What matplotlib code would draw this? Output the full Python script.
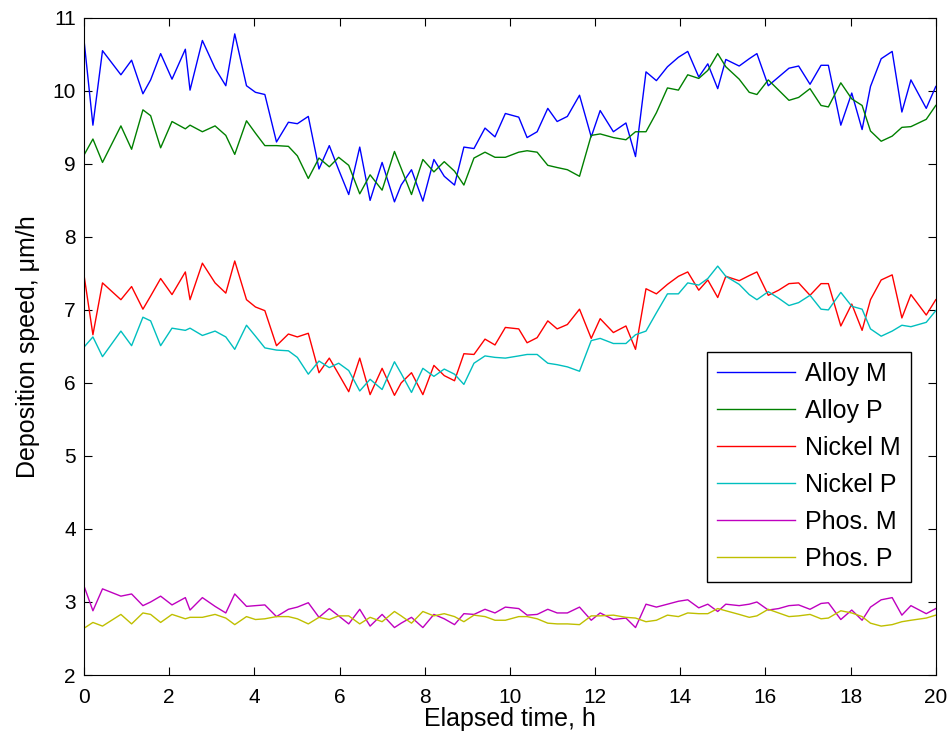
import matplotlib
matplotlib.use("Agg")
import matplotlib.pyplot as plt

plt.rcParams["font.family"] = ["Liberation Sans", "DejaVu Sans"]

# elapsed time, h (irregular sampling)
t = [0.0, 0.21, 0.435, 0.867, 1.118, 1.384, 1.565, 1.80, 2.067, 2.38,
     2.49, 2.78, 3.078, 3.33, 3.54, 3.816, 4.027, 4.247, 4.52, 4.80,
     5.01, 5.267, 5.518, 5.76, 5.98, 6.216, 6.475, 6.718, 7.0, 7.29,
     7.447, 7.69, 7.957, 8.216, 8.459, 8.70, 8.92, 9.157, 9.416, 9.65,
     9.894, 10.208, 10.404, 10.64, 10.89, 11.11, 11.35, 11.635, 11.91, 12.12,
     12.43, 12.725, 12.95, 13.196, 13.44, 13.70, 13.957, 14.176, 14.435, 14.647,
     14.88, 15.07, 15.384, 15.62, 15.80, 16.067, 16.31, 16.553, 16.78, 17.047,
     17.306, 17.478, 17.77, 18.027, 18.27, 18.467, 18.718, 18.976, 19.204, 19.416,
     19.776, 20.0]

alloy_m = [10.70, 9.53, 10.55, 10.22, 10.42, 9.96, 10.15, 10.51, 10.16, 10.57,
           10.01, 10.69, 10.31, 10.07, 10.78, 10.07, 9.98, 9.95, 9.30, 9.57,
           9.55, 9.65, 8.93, 9.25, 8.92, 8.58, 9.23, 8.50, 9.02, 8.48,
           8.71, 8.92, 8.49, 9.06, 8.83, 8.71, 9.23, 9.21, 9.49, 9.37,
           9.69, 9.64, 9.36, 9.44, 9.76, 9.58, 9.65, 9.94, 9.37, 9.73,
           9.44, 9.56, 9.10, 10.26, 10.14, 10.33, 10.46, 10.54, 10.19, 10.37,
           10.03, 10.43, 10.34, 10.44, 10.51, 10.07, 10.19, 10.31, 10.34, 10.09,
           10.35, 10.35, 9.53, 9.97, 9.47, 10.06, 10.44, 10.54, 9.71, 10.15,
           9.76, 10.06]

alloy_p = [9.12, 9.34, 9.02, 9.52, 9.20, 9.74, 9.66, 9.22, 9.58, 9.48,
           9.53, 9.44, 9.52, 9.39, 9.13, 9.59, 9.42, 9.25, 9.25, 9.24,
           9.11, 8.80, 9.08, 8.96, 9.09, 8.98, 8.59, 8.85, 8.64, 9.17,
           8.94, 8.58, 9.06, 8.89, 9.03, 8.90, 8.71, 9.08, 9.16, 9.09,
           9.09, 9.16, 9.18, 9.16, 8.98, 8.95, 8.92, 8.83, 9.39, 9.41,
           9.36, 9.33, 9.44, 9.44, 9.70, 10.04, 10.01, 10.22, 10.17, 10.28,
           10.51, 10.33, 10.16, 9.98, 9.95, 10.15, 10.01, 9.87, 9.91, 10.03,
           9.80, 9.78, 10.11, 9.89, 9.80, 9.45, 9.31, 9.38, 9.50, 9.51,
           9.61, 9.80]

nickel_m = [7.48, 6.66, 7.37, 7.14, 7.32, 7.01, 7.19, 7.43, 7.21, 7.52,
            7.14, 7.64, 7.37, 7.23, 7.67, 7.14, 7.04, 6.99, 6.51, 6.67,
            6.63, 6.68, 6.14, 6.34, 6.12, 5.88, 6.34, 5.84, 6.20, 5.83,
            6.00, 6.14, 5.84, 6.24, 6.10, 6.03, 6.40, 6.39, 6.60, 6.52,
            6.76, 6.74, 6.55, 6.62, 6.85, 6.74, 6.80, 7.01, 6.61, 6.88,
            6.69, 6.78, 6.46, 7.29, 7.22, 7.35, 7.46, 7.52, 7.27, 7.41,
            7.17, 7.46, 7.40, 7.47, 7.52, 7.20, 7.27, 7.36, 7.37, 7.20,
            7.36, 7.36, 6.78, 7.08, 6.72, 7.14, 7.41, 7.48, 6.89, 7.21,
            6.93, 7.14]

nickel_p = [6.49, 6.63, 6.36, 6.71, 6.51, 6.90, 6.85, 6.51, 6.75, 6.72,
            6.75, 6.65, 6.71, 6.63, 6.46, 6.79, 6.64, 6.48, 6.45, 6.44,
            6.35, 6.12, 6.30, 6.21, 6.27, 6.17, 5.89, 6.05, 5.91, 6.29,
            6.13, 5.87, 6.20, 6.09, 6.19, 6.12, 5.98, 6.27, 6.37, 6.35,
            6.34, 6.37, 6.39, 6.39, 6.27, 6.25, 6.22, 6.16, 6.58, 6.61,
            6.54, 6.54, 6.66, 6.71, 6.96, 7.22, 7.22, 7.37, 7.34, 7.43,
            7.60, 7.46, 7.35, 7.21, 7.14, 7.25, 7.16, 7.06, 7.10, 7.20,
            7.01, 7.00, 7.24, 7.05, 7.01, 6.74, 6.64, 6.71, 6.79, 6.77,
            6.83, 6.99]

phos_m = [3.22, 2.88, 3.18, 3.08, 3.11, 2.95, 3.00, 3.08, 2.96, 3.06,
          2.89, 3.06, 2.94, 2.85, 3.11, 2.94, 2.95, 2.96, 2.80, 2.90,
          2.93, 2.99, 2.79, 2.91, 2.81, 2.70, 2.90, 2.67, 2.83, 2.65,
          2.71, 2.79, 2.65, 2.83, 2.77, 2.69, 2.84, 2.83, 2.90, 2.85,
          2.93, 2.91, 2.82, 2.83, 2.90, 2.85, 2.85, 2.93, 2.75, 2.85,
          2.76, 2.78, 2.65, 2.97, 2.93, 2.97, 3.01, 3.03, 2.92, 2.97,
          2.87, 2.97, 2.95, 2.97, 3.00, 2.89, 2.91, 2.95, 2.96, 2.90,
          2.98, 2.99, 2.76, 2.89, 2.75, 2.93, 3.03, 3.06, 2.82, 2.95,
          2.84, 2.91]

phos_p = [2.64, 2.72, 2.67, 2.83, 2.70, 2.85, 2.83, 2.72, 2.83, 2.77,
          2.79, 2.79, 2.83, 2.78, 2.69, 2.80, 2.76, 2.77, 2.80, 2.80,
          2.77, 2.70, 2.79, 2.76, 2.81, 2.81, 2.70, 2.79, 2.73, 2.87,
          2.81, 2.71, 2.87, 2.81, 2.84, 2.80, 2.73, 2.82, 2.80, 2.75,
          2.75, 2.80, 2.80, 2.77, 2.71, 2.70, 2.70, 2.69, 2.81, 2.81,
          2.82, 2.79, 2.78, 2.73, 2.75, 2.82, 2.80, 2.85, 2.84, 2.84,
          2.91, 2.88, 2.83, 2.79, 2.81, 2.90, 2.85, 2.80, 2.81, 2.83,
          2.77, 2.78, 2.88, 2.85, 2.80, 2.71, 2.67, 2.69, 2.73, 2.75,
          2.78, 2.82]

labels = ["Alloy M", "Alloy P", "Nickel M", "Nickel P", "Phos. M", "Phos. P"]
series = [alloy_m, alloy_p, nickel_m, nickel_p, phos_m, phos_p]
colors = ["#0000ff", "#008000", "#ff0000", "#00bfbf", "#bf00bf", "#bfbf00"]

fig = plt.figure(figsize=(9.51, 7.43), dpi=100)
ax = fig.add_axes([0.0883, 0.0915, 0.8957, 0.8845])

for y, lab, c in zip(series, labels, colors):
    ax.plot(t, y, color=c, linewidth=1.0, label=lab)

ax.set_xlim(0, 20)
ax.set_ylim(2, 11)
ax.set_xticks(range(0, 21, 2))
ax.set_yticks(range(2, 12))
ax.tick_params(direction="in", top=True, right=True, labelsize=15, length=6, width=0.8)
ax.tick_params(axis="x", pad=9)
ax.tick_params(axis="y", pad=6)
for s in ax.spines.values():
    s.set_linewidth(0.8)
ax.set_xlabel("Elapsed time, h", fontsize=18, labelpad=0)
ax.set_ylabel("Deposition speed, \u03bcm/h", fontsize=18, labelpad=9)

leg = ax.legend(loc="upper left", bbox_to_anchor=(0.731, 0.492), borderaxespad=0,
                fontsize=18, handlelength=3.1, handletextpad=0.4, fancybox=False,
                framealpha=1, edgecolor="black", labelspacing=0.52, borderpad=0.42)
leg.get_frame().set_linewidth(1.0)

fig.savefig("out.png", dpi=100)
